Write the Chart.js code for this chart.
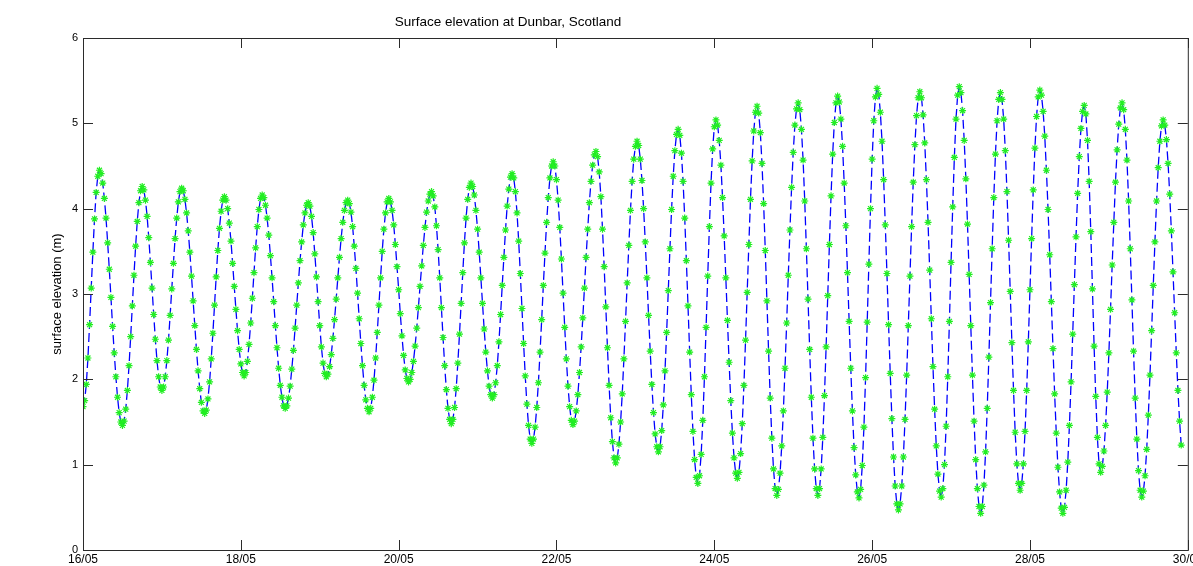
<!DOCTYPE html>
<html>
<head>
<meta charset="utf-8">
<script src="https://cdn.jsdelivr.net/npm/chart.js@4/dist/chart.umd.min.js"></script>
<style>
  html, body { margin: 0; padding: 0; background: #fff; }
  #tide { display: block; }
</style>
</head>
<body>
<canvas id="tide" width="1193" height="566"></canvas>
<script>
// Surface elevation at Dunbar - half-hourly samples from 16/05 00:00
const chartTitle = 'Surface elevation at Dunbar, Scotland';
const yAxisTitle = 'surface elevation (m)';
const sampleStepHours = 0.5;
const dayLabels = ['16/05', '18/05', '20/05', '22/05', '24/05', '26/05', '28/05', '30/05'];
const dayTickHours = [0, 48, 96, 144, 192, 240, 288, 336];
const levelTicks = [0, 1, 2, 3, 4, 5, 6];

// elevation (m), one line per half tide
const elevation = [
  1.68,
  1.75, 1.94, 2.25, 2.64, 3.07, 3.49, 3.88, 4.19, 4.38, 4.45,
  4.41, 4.30, 4.12, 3.89, 3.60, 3.29, 2.96, 2.62, 2.31, 2.03, 1.79, 1.61, 1.50, 1.46,
  1.51, 1.65, 1.87, 2.16, 2.50, 2.86, 3.22, 3.56, 3.85, 4.07, 4.21, 4.26,
  4.22, 4.10, 3.91, 3.66, 3.37, 3.07, 2.76, 2.47, 2.22, 2.03, 1.91, 1.87,
  1.91, 2.03, 2.22, 2.46, 2.75, 3.06, 3.36, 3.65, 3.89, 4.08, 4.20, 4.24,
  4.21, 4.11, 3.95, 3.74, 3.49, 3.21, 2.92, 2.63, 2.35, 2.10, 1.89, 1.73, 1.63, 1.60,
  1.64, 1.77, 1.97, 2.24, 2.54, 2.87, 3.20, 3.51, 3.77, 3.97, 4.10, 4.14,
  4.10, 4.00, 3.83, 3.62, 3.36, 3.09, 2.82, 2.57, 2.35, 2.18, 2.08, 2.04,
  2.08, 2.21, 2.41, 2.66, 2.95, 3.25, 3.54, 3.79, 3.99, 4.12, 4.16,
  4.13, 4.04, 3.89, 3.69, 3.45, 3.19, 2.91, 2.63, 2.37, 2.13, 1.93, 1.79, 1.69, 1.66,
  1.69, 1.78, 1.92, 2.12, 2.34, 2.60, 2.87, 3.13, 3.39, 3.61, 3.81, 3.95, 4.04, 4.07,
  4.03, 3.91, 3.72, 3.47, 3.20, 2.91, 2.63, 2.38, 2.19, 2.07, 2.03,
  2.06, 2.15, 2.29, 2.48, 2.70, 2.94, 3.19, 3.43, 3.65, 3.84, 3.98, 4.07, 4.10,
  4.06, 3.96, 3.79, 3.56, 3.30, 3.01, 2.71, 2.42, 2.16, 1.93, 1.76, 1.66, 1.62,
  1.66, 1.79, 1.99, 2.25, 2.55, 2.87, 3.19, 3.50, 3.76, 3.95, 4.08, 4.12,
  4.08, 3.98, 3.81, 3.58, 3.32, 3.05, 2.77, 2.51, 2.28, 2.11, 2.01, 1.97,
  2.00, 2.08, 2.21, 2.39, 2.60, 2.84, 3.09, 3.33, 3.57, 3.78, 3.96, 4.09, 4.17, 4.20,
  4.15, 4.02, 3.80, 3.52, 3.19, 2.84, 2.49, 2.16, 1.88, 1.66, 1.53, 1.48,
  1.53, 1.67, 1.89, 2.19, 2.53, 2.89, 3.25, 3.60, 3.89, 4.11, 4.25, 4.30,
  4.26, 4.16, 3.98, 3.76, 3.49, 3.19, 2.89, 2.59, 2.32, 2.10, 1.92, 1.82, 1.78,
  1.82, 1.96, 2.16, 2.44, 2.76, 3.10, 3.43, 3.75, 4.03, 4.23, 4.37, 4.41,
  4.36, 4.20, 3.95, 3.62, 3.24, 2.83, 2.42, 2.04, 1.71, 1.46, 1.30, 1.25,
  1.30, 1.44, 1.67, 1.96, 2.32, 2.70, 3.10, 3.48, 3.84, 4.13, 4.36, 4.50, 4.55,
  4.50, 4.34, 4.10, 3.78, 3.41, 3.01, 2.61, 2.24, 1.92, 1.68, 1.52, 1.47,
  1.51, 1.63, 1.82, 2.08, 2.38, 2.72, 3.07, 3.43, 3.76, 4.07, 4.32, 4.51, 4.63, 4.67,
  4.61, 4.43, 4.14, 3.76, 3.32, 2.85, 2.37, 1.93, 1.55, 1.27, 1.08, 1.02,
  1.08, 1.24, 1.50, 1.83, 2.24, 2.68, 3.13, 3.57, 3.98, 4.32, 4.58, 4.73, 4.79,
  4.74, 4.58, 4.33, 4.00, 3.61, 3.19, 2.75, 2.33, 1.94, 1.61, 1.36, 1.21, 1.15,
  1.21, 1.40, 1.70, 2.10, 2.55, 3.04, 3.53, 3.99, 4.38, 4.68, 4.87, 4.93,
  4.86, 4.65, 4.32, 3.89, 3.39, 2.86, 2.32, 1.82, 1.39, 1.06, 0.85, 0.78,
  0.87, 1.12, 1.52, 2.03, 2.61, 3.21, 3.79, 4.30, 4.70, 4.96, 5.04,
  4.98, 4.80, 4.51, 4.13, 3.68, 3.19, 2.69, 2.20, 1.75, 1.37, 1.08, 0.90, 0.84,
  0.91, 1.13, 1.48, 1.93, 2.46, 3.02, 3.58, 4.11, 4.56, 4.91, 5.13, 5.20,
  5.12, 4.89, 4.53, 4.06, 3.51, 2.92, 2.33, 1.78, 1.31, 0.95, 0.72, 0.64,
  0.71, 0.90, 1.22, 1.63, 2.13, 2.66, 3.22, 3.75, 4.25, 4.66, 4.98, 5.17, 5.24,
  5.16, 4.93, 4.57, 4.09, 3.53, 2.94, 2.35, 1.79, 1.31, 0.95, 0.72, 0.64,
  0.72, 0.95, 1.32, 1.81, 2.38, 2.98, 3.58, 4.15, 4.64, 5.01, 5.24, 5.32,
  5.25, 5.05, 4.73, 4.30, 3.80, 3.25, 2.68, 2.13, 1.63, 1.20, 0.88, 0.68, 0.61,
  0.71, 0.99, 1.44, 2.02, 2.67, 3.35, 4.00, 4.58, 5.03, 5.31, 5.41,
  5.34, 5.13, 4.79, 4.34, 3.81, 3.24, 2.64, 2.07, 1.54, 1.09, 0.75, 0.54, 0.47,
  0.54, 0.75, 1.09, 1.53, 2.05, 2.63, 3.21, 3.79, 4.31, 4.75, 5.09, 5.30, 5.37,
  5.30, 5.10, 4.77, 4.34, 3.84, 3.28, 2.71, 2.15, 1.65, 1.22, 0.89, 0.69, 0.62,
  0.72, 1.00, 1.45, 2.03, 2.68, 3.37, 4.02, 4.60, 5.05, 5.33, 5.43,
  5.36, 5.15, 4.80, 4.35, 3.82, 3.23, 2.63, 2.05, 1.51, 1.06, 0.72, 0.51, 0.43,
  0.51, 0.76, 1.15, 1.66, 2.26, 2.90, 3.53, 4.13, 4.64, 5.03, 5.28, 5.36,
  5.28, 5.05, 4.68, 4.20, 3.63, 3.03, 2.43, 1.87, 1.38, 1.01, 0.78, 0.70,
  0.78, 1.01, 1.39, 1.87, 2.44, 3.05, 3.65, 4.22, 4.71, 5.08, 5.31, 5.39,
  5.33, 5.14, 4.85, 4.45, 3.99, 3.46, 2.91, 2.36, 1.83, 1.37, 0.97, 0.68, 0.49, 0.43,
  0.50, 0.70, 1.03, 1.46, 1.97, 2.53, 3.11, 3.67, 4.18, 4.61, 4.94, 5.14, 5.21,
  5.11, 4.80, 4.32, 3.73, 3.06, 2.39, 1.80, 1.32, 1.01, 0.91,
  0.98, 1.16, 1.46, 1.85, 2.31, 2.82, 3.34, 3.84, 4.31, 4.69, 4.99, 5.18, 5.24,
  5.16, 4.93, 4.57, 4.09, 3.53, 2.93, 2.33, 1.78, 1.30, 0.93, 0.70, 0.62,
  0.69, 0.87, 1.18, 1.58, 2.05, 2.57, 3.10, 3.61, 4.09, 4.48, 4.79, 4.97, 5.04,
  4.98, 4.81, 4.53, 4.17, 3.74, 3.26, 2.78, 2.31, 1.87, 1.51, 1.23
];

const points = elevation.map((v, i) => ({ x: i * sampleStepHours, y: v }));

const FONT = 'Liberation Sans, Arial, sans-serif';

// matlab-ish box: frame, inward ticks on all sides, title and ylabel
const matlabBox = {
  id: 'matlabBox',
  afterDraw(chart) {
    const { ctx, chartArea: a, scales } = chart;
    const tick = 10;
    ctx.save();
    ctx.strokeStyle = '#2b2b2b';
    ctx.lineWidth = 1;
    ctx.strokeRect(a.left + 0.5, a.top + 0.5, a.right - a.left, a.bottom - a.top);
    ctx.beginPath();
    dayTickHours.forEach(h => {
      const x = Math.round(scales.x.getPixelForValue(h)) + 0.5;
      ctx.moveTo(x, a.bottom); ctx.lineTo(x, a.bottom - tick);
      ctx.moveTo(x, a.top); ctx.lineTo(x, a.top + tick);
    });
    levelTicks.forEach(v => {
      const y = Math.round(scales.y.getPixelForValue(v)) + 0.5;
      ctx.moveTo(a.left, y); ctx.lineTo(a.left + tick, y);
      ctx.moveTo(a.right, y); ctx.lineTo(a.right - tick, y);
    });
    ctx.stroke();

    ctx.fillStyle = '#000';
    ctx.font = '13.5px ' + FONT;
    ctx.textAlign = 'center';
    ctx.textBaseline = 'middle';
    ctx.fillText(chartTitle, 508, 22);

    ctx.font = '13px ' + FONT;
    ctx.translate(57, (a.top + a.bottom) / 2);
    ctx.rotate(-Math.PI / 2);
    ctx.fillText(yAxisTitle, 0, 0);
    ctx.restore();
  }
};

new Chart(document.getElementById('tide'), {
  type: 'line',
  data: {
    datasets: [
      {
        data: points,
        borderColor: '#0000ff',
        borderWidth: 1.3,
        borderDash: [9, 4],
        pointRadius: 0,
        tension: 0,
        order: 2
      },
      {
        data: points,
        showLine: false,
        pointStyle: 'star',
        pointRadius: 3.5,
        pointBorderWidth: 1.2,
        pointBorderColor: '#22ee22',
        pointBackgroundColor: '#22ee22',
        order: 1
      }
    ]
  },
  options: {
    responsive: false,
    animation: false,
    devicePixelRatio: 1,
    layout: { padding: { top: 38, right: 5, left: 0, bottom: 0 } },
    plugins: { legend: { display: false }, tooltip: { enabled: false } },
    scales: {
      x: {
        type: 'linear',
        min: 0,
        max: 336,
        afterBuildTicks: s => { s.ticks = dayTickHours.map(v => ({ value: v })); },
        afterFit: s => { s.height = 16; s.paddingLeft = 0; s.paddingRight = 0; },
        grid: { display: false, drawTicks: false },
        border: { display: false },
        ticks: {
          autoSkip: false,
          maxRotation: 0,
          padding: 2,
          color: '#000',
          font: { family: FONT, size: 12 },
          callback: (v) => dayLabels[dayTickHours.indexOf(v)]
        }
      },
      y: {
        min: 0,
        max: 6,
        afterBuildTicks: s => { s.ticks = levelTicks.map(v => ({ value: v })); },
        afterFit: s => { s.width = 83; s.paddingTop = 0; s.paddingBottom = 0; },
        grid: { display: false, drawTicks: false },
        border: { display: false },
        ticks: {
          padding: 5,
          color: '#000',
          font: { family: FONT, size: 11 }
        }
      }
    }
  },
  plugins: [matlabBox]
});
</script>
</body>
</html>
